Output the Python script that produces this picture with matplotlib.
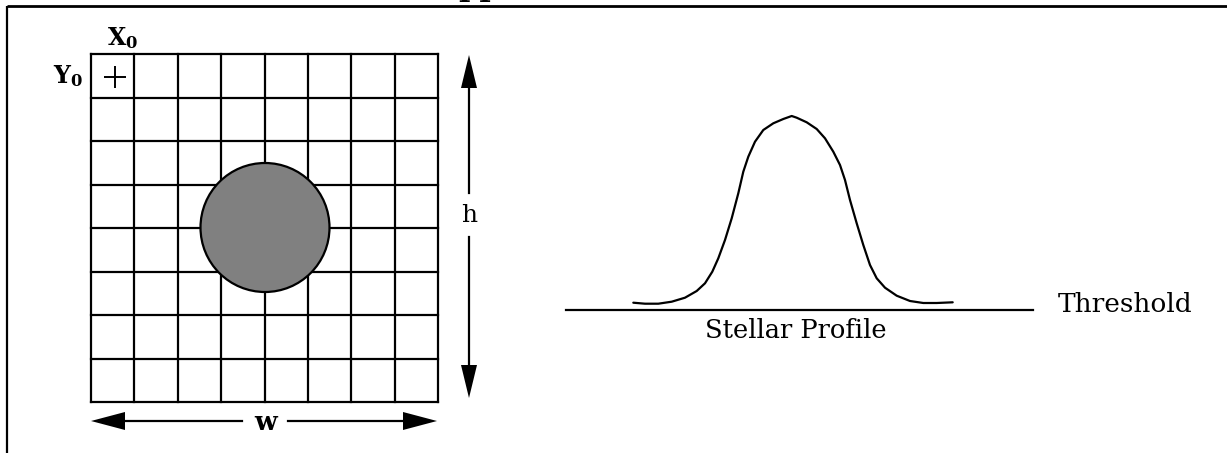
import numpy as np
import matplotlib
matplotlib.use('Agg')
import matplotlib.pyplot as plt
from matplotlib.patches import Circle

plt.rcParams['font.family'] = ['DejaVu Serif']
plt.rcParams['mathtext.fontset'] = 'dejavuserif'

# pixel canvas
W, H = 1227, 453

# image grid (8 x 8 pixels)
n_cols, n_rows = 8, 8
grid_x0, grid_x1 = 91, 438
grid_y0, grid_y1 = 54, 402

# star on the grid
star_xy = (265, 227.5)
star_r = 64.5

# stellar profile (pixel coords)
prof_x = [633.3, 645, 658.3, 671.7, 685, 696.7, 705, 712.3, 718.3, 725, 731.7, 738.3,
          743.3, 748.3, 755, 763.3, 773.3, 783.3, 791.7,
          796.7, 806.7, 816.7, 825, 833.3, 840, 845, 850, 856.7, 863.3, 870,
          876.7, 885, 896.7, 910, 923.3, 936.7, 952.7]
prof_y = [302.7, 303.7, 303.7, 301.7, 297.7, 291, 283.3, 271.7, 258.3, 240, 218.3, 193.3,
          171.7, 156.7, 141.7, 130, 123.3, 119, 116,
          117.7, 122.3, 129, 138.3, 151.7, 165, 180, 200, 223.3, 245, 265,
          278.3, 287.7, 295.7, 301, 303, 303, 302.3]
thresh_y = 309.5
thresh_x = (566, 1033)

fig = plt.figure(figsize=(W/100, H/100), dpi=100)
ax = fig.add_axes([0, 0, 1, 1])
ax.set_xlim(0, W)
ax.set_ylim(H, 0)
ax.axis('off')

lw = 1.6

# frame lines
ax.plot([7, W], [6, 6], color='black', lw=2.0, solid_capstyle='butt')
ax.plot([7, 7], [6, H], color='black', lw=1.6, solid_capstyle='butt')
ax.text(480, -4.5, 'pp', ha='center', va='baseline', fontsize=22,
        fontweight='bold', clip_on=False)

# grid
xs = np.linspace(grid_x0, grid_x1, n_cols + 1)
ys = np.linspace(grid_y0, grid_y1, n_rows + 1)
for x in xs:
    ax.plot([x, x], [grid_y0, grid_y1], color='black', lw=lw, solid_capstyle='projecting')
for y in ys:
    ax.plot([grid_x0, grid_x1], [y, y], color='black', lw=lw, solid_capstyle='projecting')

ax.add_patch(Circle(star_xy, star_r, facecolor='#808080', edgecolor='black', lw=lw, zorder=3))

# origin marker and labels
ax.plot([115], [76.5], marker='+', color='black', markersize=16, mew=1.4)
ax.text(123, 38, r'$\mathbf{X}_\mathbf{0}$', ha='center', va='center', fontsize=17)
ax.text(68, 76, r'$\mathbf{Y}_\mathbf{0}$', ha='center', va='center', fontsize=17)

def head(tip, direction, length, width):
    tx, ty = tip
    dx, dy = direction
    bx, by = tx - dx*length, ty - dy*length
    px, py = -dy*width/2, dx*width/2
    ax.fill([tx, bx+px, bx-px], [ty, by+py, by-py], color='black', lw=0)

# h arrow
hx = 469
head((hx, 55), (0, -1), 33, 16)
head((hx, 398), (0, 1), 33, 16)
ax.plot([hx, hx], [86, 193], color='black', lw=lw)
ax.plot([hx, hx], [237, 366], color='black', lw=lw)
ax.text(hx, 216, 'h', ha='center', va='center', fontsize=18)

# w arrow
wy = 421
head((91, wy), (-1, 0), 34, 18)
head((437, wy), (1, 0), 34, 18)
ax.plot([123, 242], [wy, wy], color='black', lw=lw)
ax.plot([288, 405], [wy, wy], color='black', lw=lw)
ax.text(266, 423, 'w', ha='center', va='center', fontsize=19, fontweight='bold')

# stellar profile
ax.plot(prof_x, prof_y, color='black', lw=1.6, solid_joinstyle='round', solid_capstyle='round')
ax.plot(thresh_x, [thresh_y, thresh_y], color='black', lw=1.6)
ax.text(1058, 305, 'Threshold', ha='left', va='center', fontsize=19)
ax.text(796, 331, 'Stellar Profile', ha='center', va='center', fontsize=18.5)

fig.savefig('out.png', dpi=100)
